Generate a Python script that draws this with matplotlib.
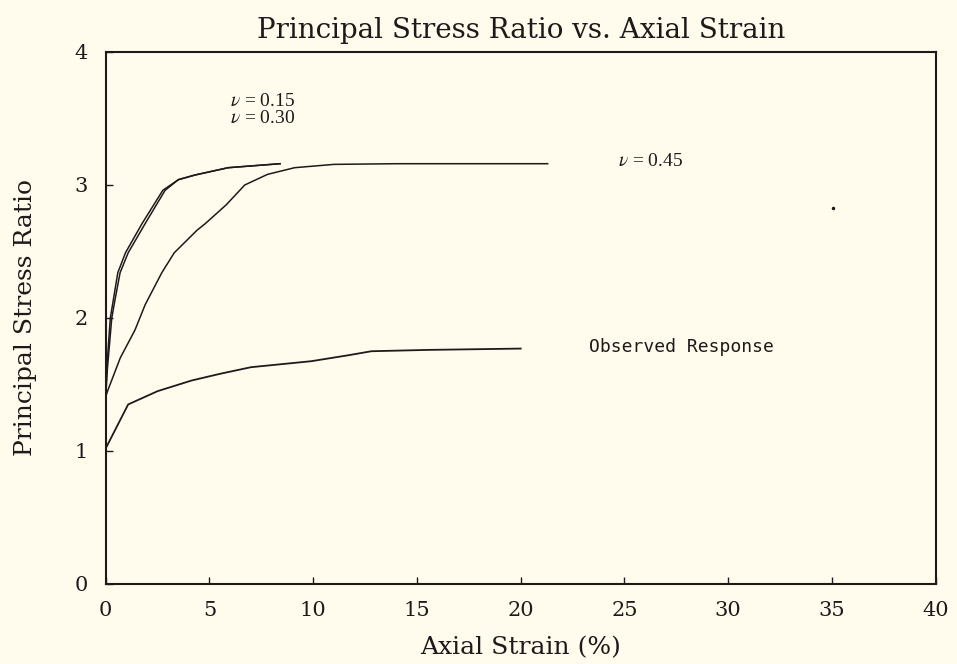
import matplotlib.pyplot as plt
import numpy as np

# curves
nu15_x = [0.0, 0.05, 0.22, 0.37, 0.58, 0.95, 1.75, 2.75, 3.5, 4.3, 5.9, 8.4]
nu15_y = [1.41, 1.62, 2.0, 2.14, 2.34, 2.49, 2.71, 2.96, 3.04, 3.075, 3.13, 3.16]
nu30_x = [0.0, 0.08, 0.29, 0.45, 0.69, 1.08, 1.9, 2.86, 3.5, 4.3, 5.9, 8.4]
nu30_y = [1.41, 1.62, 2.0, 2.14, 2.34, 2.49, 2.71, 2.96, 3.04, 3.075, 3.13, 3.16]
nu45_x = [0.0, 0.11, 0.7, 1.41, 1.9, 2.7, 3.3, 4.4, 4.8, 5.8, 6.7, 7.8, 9.1, 11.0, 14.0, 21.3]
nu45_y = [1.41, 1.46, 1.70, 1.91, 2.10, 2.34, 2.49, 2.66, 2.71, 2.85, 3.0, 3.08, 3.13, 3.155, 3.16, 3.16]
obs_x = [0.0, 1.08, 2.5, 4.14, 5.5, 7.0, 9.9, 11.7, 12.8, 15.5, 20.0]
obs_y = [1.02, 1.35, 1.45, 1.53, 1.58, 1.63, 1.675, 1.72, 1.75, 1.76, 1.77]
speck_x = [35.06]
speck_y = [2.83]

x_ticks = [0, 5, 10, 15, 20, 25, 30, 35, 40]
y_ticks = [0, 1, 2, 3, 4]

bg = "#fffcee"
ink = "#1e1a1a"

plt.rcParams["font.family"] = "DejaVu Serif"
plt.rcParams["mathtext.fontset"] = "stix"

fig = plt.figure(figsize=(9.57, 6.64), dpi=100, facecolor=bg)
ax = fig.add_axes([0.1105, 0.1205, 0.8672, 0.8012], facecolor=bg)

ax.plot(nu15_x, nu15_y, color=ink, lw=1.1)
ax.plot(nu30_x, nu30_y, color=ink, lw=1.1)
ax.plot(nu45_x, nu45_y, color=ink, lw=1.1)
ax.plot(obs_x, obs_y, color=ink, lw=1.3)
ax.plot(speck_x, speck_y, "o", color=ink, ms=1.5)

ax.set_xlim(0, 40)
ax.set_ylim(0, 4)
ax.set_xticks(x_ticks)
ax.set_yticks(y_ticks)
ax.tick_params(direction="in", length=5, width=1, colors=ink, labelsize=15, pad=12)
ax.tick_params(axis="y", pad=13)
for s in ax.spines.values():
    s.set_color(ink)
    s.set_linewidth(1.5)

ax.set_title("Principal Stress Ratio vs. Axial Strain", fontsize=20, color=ink, pad=10)
ax.set_xlabel("Axial Strain (%)", fontsize=18, color=ink, labelpad=12)
ax.set_ylabel("Principal Stress Ratio", fontsize=18, color=ink, labelpad=27)

nu_kw = dict(fontsize=14, family="Liberation Serif", color=ink, va="center")
ax.text(6.0, 3.63, r"$\nu$ = 0.15", **nu_kw)
ax.text(6.0, 3.50, r"$\nu$ = 0.30", **nu_kw)
ax.text(24.7, 3.18, r"$\nu$ = 0.45", **nu_kw)
ax.text(23.3, 1.78, "Observed Response", fontsize=13, family="DejaVu Sans Mono", color=ink, va="center")

fig.savefig("out.png", dpi=100, facecolor=bg)
